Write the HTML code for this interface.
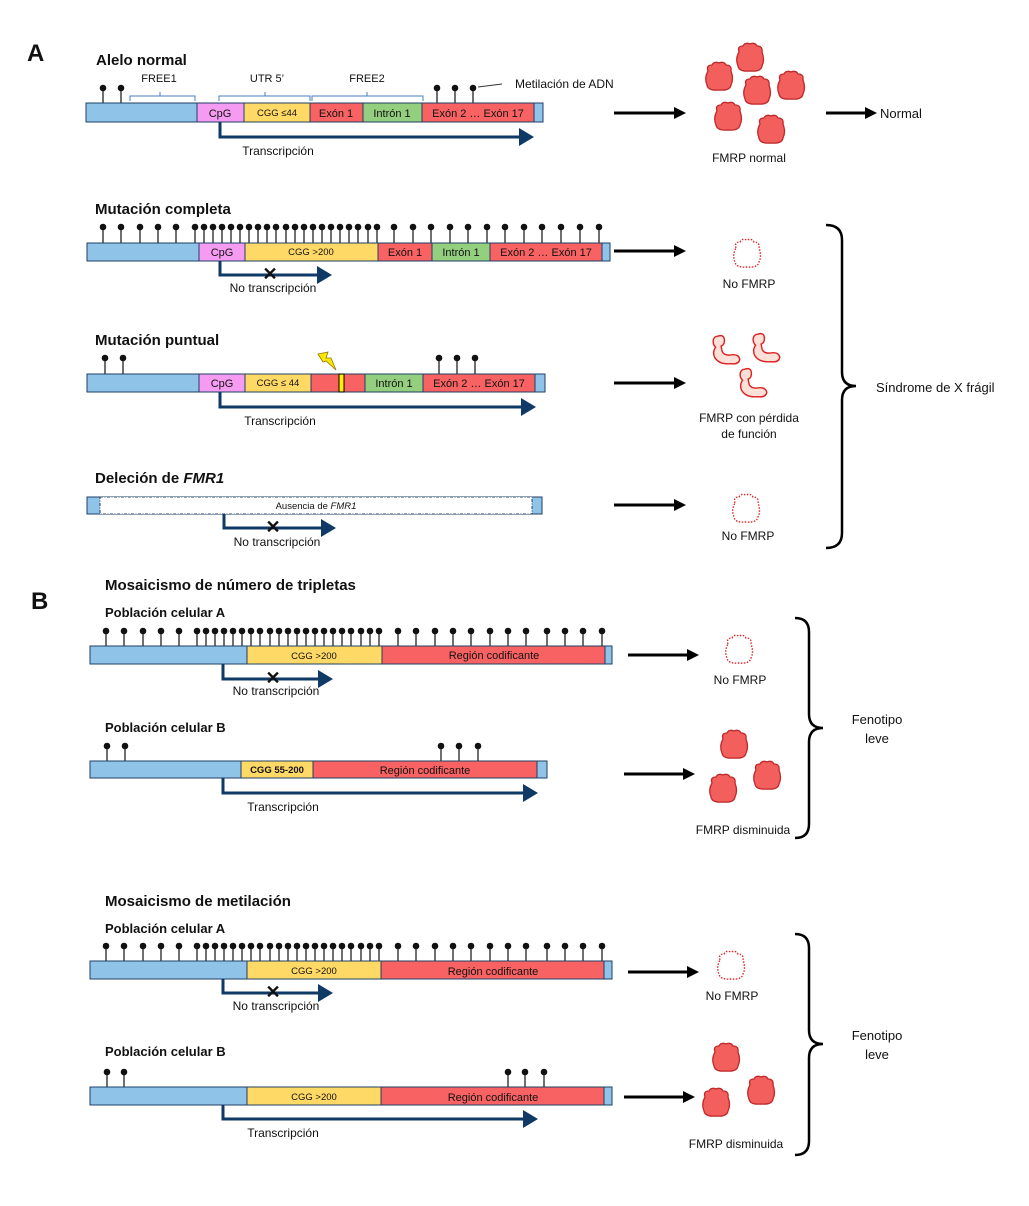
<!DOCTYPE html>
<html><head><meta charset="utf-8"><style>
html,body{margin:0;padding:0;background:#fff}
svg{display:block}
text{font-family:"Liberation Sans",sans-serif;fill:#111}
.t{font-size:15px;font-weight:bold}
.s{font-size:13px;font-weight:bold}
.b{font-size:11px}
.sm{font-size:9.5px}
.l{font-size:12px}
.r{font-size:13px}
</style></head><body>
<svg width="1029" height="1206" viewBox="0 0 1029 1206" xmlns="http://www.w3.org/2000/svg">
<defs>
<g id="pin"><line x1="0" y1="0" x2="0" y2="16" stroke="#111" stroke-width="1.2"/><circle cx="0" cy="0" r="3.3" fill="#111"/></g>
<g id="pin15"><line x1="0" y1="0" x2="0" y2="15" stroke="#111" stroke-width="1.2"/><circle cx="0" cy="0" r="3.3" fill="#111"/></g>
<path id="prot" d="M4,10 Q2,4 8,4 Q10,0 15,2 Q20,0 22,4 Q28,4 27,10 Q30,18 27,24 Q26,30 15,29 Q4,30 3,24 Q0,17 4,10 Z" fill="#f25f5c" stroke="#c0282a" stroke-width="1.3"/>
<path id="blob" d="M4,10 Q2,4 8,4 Q10,0 15,2 Q20,0 22,4 Q28,4 27,10 Q30,18 27,24 Q26,30 15,29 Q4,30 3,24 Q0,17 4,10 Z" fill="none" stroke="#e02a2a" stroke-width="1.4" stroke-dasharray="1.5,1.5"/>
<path id="lof" transform="scale(1.1)" d="M8,2 Q14,0 14,6 Q14,10 11,11 L12,16 Q14,20 20,19 Q27,18 28,23 Q27,28 20,27 Q9,28 5,21 Q3,16 6,12 Q3,9 4,5 Q5,2 8,2Z" fill="#fde0d8" stroke="#d22" stroke-width="1.3"/>
<marker id="ah" markerWidth="6" markerHeight="6" refX="3" refY="3" orient="auto" markerUnits="strokeWidth"><path d="M0,0 L5,3 L0,6Z" fill="#0f3a66"/></marker>
<marker id="bk" markerWidth="4" markerHeight="4" refX="1" refY="2" orient="auto" markerUnits="strokeWidth"><path d="M0,0 L4,2 L0,4Z" fill="#000"/></marker>
</defs>

<!-- A -->
<text x="27" y="61" style="font-size:24px;font-weight:bold">A</text>
<text x="96" y="65" class="t">Alelo normal</text>
<text x="159" y="82" class="b" text-anchor="middle">FREE1</text>
<text x="267" y="82" class="b" text-anchor="middle">UTR 5’</text>
<text x="367" y="82" class="b" text-anchor="middle">FREE2</text>
<g fill="none" stroke="#4a7cc0" stroke-width="1">
<path d="M130,101 V96 H195 V101 M160,96 V92"/>
<path d="M219,101 V96 H310 V101 M265,96 V92"/>
<path d="M312,101 V96 H423 V101 M367,96 V92"/>
</g>
<use href="#pin" x="103" y="88"/><use href="#pin" x="121" y="88"/>
<use href="#pin" x="437" y="88"/><use href="#pin" x="455" y="88"/><use href="#pin" x="473" y="88"/>
<line x1="478" y1="87" x2="502" y2="84" stroke="#333" stroke-width="1"/>
<text x="515" y="88" class="l">Metilación de ADN</text>
<g stroke="#1f3f66" stroke-width="1">
<rect x="86" y="103" width="111" height="19" fill="#8fc3e8"/>
<rect x="197" y="103" width="47" height="19" fill="#f59cf2"/>
<rect x="244" y="103" width="66" height="19" fill="#ffd966"/>
<rect x="310" y="103" width="53" height="19" fill="#f86262"/>
<rect x="363" y="103" width="59" height="19" fill="#93cf7f"/>
<rect x="422" y="103" width="112" height="19" fill="#f86262"/>
<rect x="534" y="103" width="9" height="19" fill="#8fc3e8"/>
</g>
<text x="220" y="117" class="b" text-anchor="middle">CpG</text>
<text x="277" y="116" class="sm" text-anchor="middle">CGG ≤44</text>
<text x="336" y="117" class="b" text-anchor="middle">Exón 1</text>
<text x="392" y="117" class="b" text-anchor="middle">Intrón 1</text>
<text x="478" y="117" class="b" text-anchor="middle">Exón 2 … Exón 17</text>
<path d="M220,122 V137 H528" fill="none" stroke="#0f3a66" stroke-width="3" marker-end="url(#ah)"/>
<text x="278" y="155" class="l" text-anchor="middle">Transcripción</text>

<line x1="614" y1="113" x2="677" y2="113" stroke="#000" stroke-width="3" marker-end="url(#bk)"/>
<use href="#prot" x="735" y="42"/><use href="#prot" x="704" y="61"/><use href="#prot" x="742" y="75"/>
<use href="#prot" x="776" y="70"/><use href="#prot" x="713" y="101"/><use href="#prot" x="756" y="114"/>
<text x="749" y="162" class="l" text-anchor="middle">FMRP normal</text>
<line x1="826" y1="113" x2="868" y2="113" stroke="#000" stroke-width="3" marker-end="url(#bk)"/>
<text x="880" y="118" class="r">Normal</text>

<!-- Mutacion completa -->
<text x="95" y="214" class="t">Mutación completa</text>
<g>
<use href="#pin" x="103" y="227"/><use href="#pin" x="121" y="227"/><use href="#pin" x="140" y="227"/><use href="#pin" x="158" y="227"/><use href="#pin" x="176" y="227"/>
<use href="#pin" x="195" y="227"/><use href="#pin" x="204" y="227"/><use href="#pin" x="213" y="227"/><use href="#pin" x="222" y="227"/><use href="#pin" x="231" y="227"/><use href="#pin" x="240" y="227"/><use href="#pin" x="249" y="227"/><use href="#pin" x="258" y="227"/><use href="#pin" x="267" y="227"/><use href="#pin" x="276" y="227"/><use href="#pin" x="286" y="227"/><use href="#pin" x="295" y="227"/><use href="#pin" x="304" y="227"/><use href="#pin" x="313" y="227"/><use href="#pin" x="322" y="227"/><use href="#pin" x="331" y="227"/><use href="#pin" x="340" y="227"/><use href="#pin" x="349" y="227"/><use href="#pin" x="358" y="227"/><use href="#pin" x="368" y="227"/><use href="#pin" x="377" y="227"/>
<use href="#pin" x="394" y="227"/><use href="#pin" x="413" y="227"/><use href="#pin" x="431" y="227"/><use href="#pin" x="450" y="227"/><use href="#pin" x="468" y="227"/><use href="#pin" x="487" y="227"/><use href="#pin" x="505" y="227"/><use href="#pin" x="524" y="227"/><use href="#pin" x="542" y="227"/><use href="#pin" x="561" y="227"/><use href="#pin" x="580" y="227"/><use href="#pin" x="599" y="227"/>
</g>
<g stroke="#1f3f66" stroke-width="1">
<rect x="87" y="243" width="112" height="18" fill="#8fc3e8"/>
<rect x="199" y="243" width="46" height="18" fill="#f59cf2"/>
<rect x="245" y="243" width="133" height="18" fill="#ffd966"/>
<rect x="378" y="243" width="54" height="18" fill="#f86262"/>
<rect x="432" y="243" width="58" height="18" fill="#93cf7f"/>
<rect x="490" y="243" width="112" height="18" fill="#f86262"/>
<rect x="602" y="243" width="8" height="18" fill="#8fc3e8"/>
</g>
<text x="222" y="256" class="b" text-anchor="middle">CpG</text>
<text x="311" y="255" class="sm" text-anchor="middle">CGG &gt;200</text>
<text x="405" y="256" class="b" text-anchor="middle">Exón 1</text>
<text x="461" y="256" class="b" text-anchor="middle">Intrón 1</text>
<text x="546" y="256" class="b" text-anchor="middle">Exón 2 … Exón 17</text>
<path d="M220,261 V275 H326" fill="none" stroke="#0f3a66" stroke-width="3" marker-end="url(#ah)"/>
<text x="270" y="280" text-anchor="middle" style="font-size:18px;font-weight:bold">✕</text>
<text x="273" y="292" class="l" text-anchor="middle">No transcripción</text>
<line x1="614" y1="251" x2="677" y2="251" stroke="#000" stroke-width="3" marker-end="url(#bk)"/>
<use href="#blob" x="732" y="238"/>
<text x="749" y="288" class="l" text-anchor="middle">No FMRP</text>

<!-- Mutacion puntual -->
<text x="95" y="345" class="t">Mutación puntual</text>
<use href="#pin" x="105" y="358"/><use href="#pin" x="123" y="358"/>
<use href="#pin" x="439" y="358"/><use href="#pin" x="457" y="358"/><use href="#pin" x="475" y="358"/>
<g stroke="#1f3f66" stroke-width="1">
<rect x="87" y="374" width="112" height="18" fill="#8fc3e8"/>
<rect x="199" y="374" width="46" height="18" fill="#f59cf2"/>
<rect x="245" y="374" width="66" height="18" fill="#ffd966"/>
<rect x="311" y="374" width="54" height="18" fill="#f86262"/>
<rect x="339" y="374" width="5" height="18" fill="#ffee00" stroke="#000"/>
<rect x="365" y="374" width="58" height="18" fill="#93cf7f"/>
<rect x="423" y="374" width="112" height="18" fill="#f86262"/>
<rect x="535" y="374" width="10" height="18" fill="#8fc3e8"/>
</g>
<path d="M318,354 L328,352 L326,358 L331,358 L336,370 L326,361 L323,362 Z" fill="#ffe600" stroke="#8a7a00" stroke-width="0.8"/>
<text x="222" y="387" class="b" text-anchor="middle">CpG</text>
<text x="278" y="386" class="sm" text-anchor="middle">CGG ≤ 44</text>
<text x="394" y="387" class="b" text-anchor="middle">Intrón 1</text>
<text x="479" y="387" class="b" text-anchor="middle">Exón 2 … Exón 17</text>
<path d="M220,392 V407 H530" fill="none" stroke="#0f3a66" stroke-width="3" marker-end="url(#ah)"/>
<text x="280" y="425" class="l" text-anchor="middle">Transcripción</text>
<line x1="614" y1="383" x2="677" y2="383" stroke="#000" stroke-width="3" marker-end="url(#bk)"/>
<g transform="translate(709,334)"><use href="#lof"/></g>
<g transform="translate(749,332)"><use href="#lof"/></g>
<g transform="translate(736,367)"><use href="#lof"/></g>
<text x="749" y="422" class="l" text-anchor="middle">FMRP con pérdida</text>
<text x="749" y="438" class="l" text-anchor="middle">de función</text>

<!-- Delecion -->
<text x="95" y="483" class="t">Deleción de <tspan font-style="italic">FMR1</tspan></text>
<rect x="87" y="497" width="455" height="17" fill="#8fc3e8" stroke="#1f3f66"/>
<rect x="100" y="497" width="432" height="17" fill="#fff" stroke="#1f3f66" stroke-dasharray="3,1.5,1,1.5"/>
<text x="316" y="509" class="sm" text-anchor="middle">Ausencia de <tspan font-style="italic">FMR1</tspan></text>
<path d="M224,514 V528 H330" fill="none" stroke="#0f3a66" stroke-width="3" marker-end="url(#ah)"/>
<text x="273" y="533" text-anchor="middle" style="font-size:18px;font-weight:bold">✕</text>
<text x="277" y="546" class="l" text-anchor="middle">No transcripción</text>
<line x1="614" y1="505" x2="677" y2="505" stroke="#000" stroke-width="3" marker-end="url(#bk)"/>
<use href="#blob" x="731" y="493"/>
<text x="748" y="540" class="l" text-anchor="middle">No FMRP</text>

<path d="M826,225 Q842,225 842,240 V372 Q842,386 856,386 Q842,386 842,400 V533 Q842,548 826,548" fill="none" stroke="#000" stroke-width="2.5"/>
<text x="876" y="392" class="r">Síndrome de X frágil</text>

<!-- B -->
<text x="31" y="609" style="font-size:24px;font-weight:bold">B</text>
<text x="105" y="590" class="t">Mosaicismo de número de tripletas</text>
<text x="105" y="617" class="s">Población celular A</text>
<g>
<use href="#pin15" x="106" y="631"/><use href="#pin15" x="124" y="631"/><use href="#pin15" x="143" y="631"/><use href="#pin15" x="161" y="631"/><use href="#pin15" x="179" y="631"/>
<use href="#pin15" x="197" y="631"/><use href="#pin15" x="206" y="631"/><use href="#pin15" x="215" y="631"/><use href="#pin15" x="224" y="631"/><use href="#pin15" x="233" y="631"/><use href="#pin15" x="242" y="631"/><use href="#pin15" x="251" y="631"/><use href="#pin15" x="260" y="631"/><use href="#pin15" x="270" y="631"/><use href="#pin15" x="279" y="631"/><use href="#pin15" x="288" y="631"/><use href="#pin15" x="297" y="631"/><use href="#pin15" x="306" y="631"/><use href="#pin15" x="315" y="631"/><use href="#pin15" x="324" y="631"/><use href="#pin15" x="333" y="631"/><use href="#pin15" x="342" y="631"/><use href="#pin15" x="351" y="631"/><use href="#pin15" x="361" y="631"/><use href="#pin15" x="370" y="631"/><use href="#pin15" x="379" y="631"/>
<use href="#pin15" x="398" y="631"/><use href="#pin15" x="416" y="631"/><use href="#pin15" x="435" y="631"/><use href="#pin15" x="453" y="631"/><use href="#pin15" x="471" y="631"/><use href="#pin15" x="490" y="631"/><use href="#pin15" x="508" y="631"/><use href="#pin15" x="526" y="631"/><use href="#pin15" x="547" y="631"/><use href="#pin15" x="565" y="631"/><use href="#pin15" x="583" y="631"/><use href="#pin15" x="602" y="631"/>
</g>
<g stroke="#1f3f66" stroke-width="1">
<rect x="90" y="646" width="157" height="18" fill="#8fc3e8"/>
<rect x="247" y="646" width="135" height="18" fill="#ffd966"/>
<rect x="382" y="646" width="223" height="18" fill="#f86262"/>
<rect x="605" y="646" width="7" height="18" fill="#8fc3e8"/>
</g>
<text x="314" y="659" class="sm" text-anchor="middle">CGG &gt;200</text>
<text x="494" y="659" class="b" text-anchor="middle">Región codificante</text>
<path d="M223,664 V679 H327" fill="none" stroke="#0f3a66" stroke-width="3" marker-end="url(#ah)"/>
<text x="273" y="684" text-anchor="middle" style="font-size:18px;font-weight:bold">✕</text>
<text x="276" y="695" class="l" text-anchor="middle">No transcripción</text>
<line x1="628" y1="655" x2="690" y2="655" stroke="#000" stroke-width="3" marker-end="url(#bk)"/>
<use href="#blob" x="724" y="634"/>
<text x="740" y="684" class="l" text-anchor="middle">No FMRP</text>

<text x="105" y="732" class="s">Población celular B</text>
<use href="#pin15" x="107" y="746"/><use href="#pin15" x="125" y="746"/>
<use href="#pin15" x="441" y="746"/><use href="#pin15" x="459" y="746"/><use href="#pin15" x="478" y="746"/>
<g stroke="#1f3f66" stroke-width="1">
<rect x="90" y="761" width="151" height="17" fill="#8fc3e8"/>
<rect x="241" y="761" width="72" height="17" fill="#ffd966"/>
<rect x="313" y="761" width="224" height="17" fill="#f86262"/>
<rect x="537" y="761" width="10" height="17" fill="#8fc3e8"/>
</g>
<text x="277" y="773" class="sm" text-anchor="middle" font-weight="bold">CGG 55-200</text>
<text x="425" y="774" class="b" text-anchor="middle">Región codificante</text>
<path d="M223,778 V793 H532" fill="none" stroke="#0f3a66" stroke-width="3" marker-end="url(#ah)"/>
<text x="283" y="811" class="l" text-anchor="middle">Transcripción</text>
<line x1="624" y1="774" x2="686" y2="774" stroke="#000" stroke-width="3" marker-end="url(#bk)"/>
<use href="#prot" x="719" y="729"/><use href="#prot" x="708" y="773"/><use href="#prot" x="752" y="760"/>
<text x="743" y="834" class="l" text-anchor="middle">FMRP disminuida</text>
<path d="M795,618 Q809,618 809,632 V714 Q809,728 823,728 Q809,728 809,742 V824 Q809,838 795,838" fill="none" stroke="#000" stroke-width="2.5"/>
<text x="877" y="724" class="r" text-anchor="middle">Fenotipo</text>
<text x="877" y="743" class="r" text-anchor="middle">leve</text>

<!-- Metilacion -->
<text x="105" y="906" class="t">Mosaicismo de metilación</text>
<text x="105" y="933" class="s">Población celular A</text>
<g>
<use href="#pin15" x="106" y="946"/><use href="#pin15" x="124" y="946"/><use href="#pin15" x="143" y="946"/><use href="#pin15" x="161" y="946"/><use href="#pin15" x="179" y="946"/>
<use href="#pin15" x="197" y="946"/><use href="#pin15" x="206" y="946"/><use href="#pin15" x="215" y="946"/><use href="#pin15" x="224" y="946"/><use href="#pin15" x="233" y="946"/><use href="#pin15" x="242" y="946"/><use href="#pin15" x="251" y="946"/><use href="#pin15" x="260" y="946"/><use href="#pin15" x="270" y="946"/><use href="#pin15" x="279" y="946"/><use href="#pin15" x="288" y="946"/><use href="#pin15" x="297" y="946"/><use href="#pin15" x="306" y="946"/><use href="#pin15" x="315" y="946"/><use href="#pin15" x="324" y="946"/><use href="#pin15" x="333" y="946"/><use href="#pin15" x="342" y="946"/><use href="#pin15" x="351" y="946"/><use href="#pin15" x="361" y="946"/><use href="#pin15" x="370" y="946"/><use href="#pin15" x="379" y="946"/>
<use href="#pin15" x="398" y="946"/><use href="#pin15" x="416" y="946"/><use href="#pin15" x="435" y="946"/><use href="#pin15" x="453" y="946"/><use href="#pin15" x="471" y="946"/><use href="#pin15" x="490" y="946"/><use href="#pin15" x="508" y="946"/><use href="#pin15" x="526" y="946"/><use href="#pin15" x="547" y="946"/><use href="#pin15" x="565" y="946"/><use href="#pin15" x="583" y="946"/><use href="#pin15" x="602" y="946"/>
</g>
<g stroke="#1f3f66" stroke-width="1">
<rect x="90" y="961" width="157" height="18" fill="#8fc3e8"/>
<rect x="247" y="961" width="134" height="18" fill="#ffd966"/>
<rect x="381" y="961" width="223" height="18" fill="#f86262"/>
<rect x="604" y="961" width="8" height="18" fill="#8fc3e8"/>
</g>
<text x="314" y="974" class="sm" text-anchor="middle">CGG &gt;200</text>
<text x="493" y="975" class="b" text-anchor="middle">Región codificante</text>
<path d="M223,979 V993 H327" fill="none" stroke="#0f3a66" stroke-width="3" marker-end="url(#ah)"/>
<text x="273" y="998" text-anchor="middle" style="font-size:18px;font-weight:bold">✕</text>
<text x="276" y="1010" class="l" text-anchor="middle">No transcripción</text>
<line x1="628" y1="972" x2="690" y2="972" stroke="#000" stroke-width="3" marker-end="url(#bk)"/>
<use href="#blob" x="716" y="950"/>
<text x="732" y="1000" class="l" text-anchor="middle">No FMRP</text>

<text x="105" y="1056" class="s">Población celular B</text>
<use href="#pin15" x="107" y="1072"/><use href="#pin15" x="124" y="1072"/>
<use href="#pin15" x="508" y="1072"/><use href="#pin15" x="525" y="1072"/><use href="#pin15" x="544" y="1072"/>
<g stroke="#1f3f66" stroke-width="1">
<rect x="90" y="1087" width="157" height="18" fill="#8fc3e8"/>
<rect x="247" y="1087" width="134" height="18" fill="#ffd966"/>
<rect x="381" y="1087" width="223" height="18" fill="#f86262"/>
<rect x="604" y="1087" width="8" height="18" fill="#8fc3e8"/>
</g>
<text x="314" y="1100" class="sm" text-anchor="middle">CGG &gt;200</text>
<text x="493" y="1101" class="b" text-anchor="middle">Región codificante</text>
<path d="M223,1105 V1119 H532" fill="none" stroke="#0f3a66" stroke-width="3" marker-end="url(#ah)"/>
<text x="283" y="1137" class="l" text-anchor="middle">Transcripción</text>
<line x1="624" y1="1097" x2="686" y2="1097" stroke="#000" stroke-width="3" marker-end="url(#bk)"/>
<use href="#prot" x="711" y="1042"/><use href="#prot" x="701" y="1087"/><use href="#prot" x="746" y="1075"/>
<text x="736" y="1148" class="l" text-anchor="middle">FMRP disminuida</text>
<path d="M795,934 Q809,934 809,948 V1030 Q809,1044 823,1044 Q809,1044 809,1058 V1141 Q809,1155 795,1155" fill="none" stroke="#000" stroke-width="2.5"/>
<text x="877" y="1040" class="r" text-anchor="middle">Fenotipo</text>
<text x="877" y="1059" class="r" text-anchor="middle">leve</text>
</svg>
</body></html>
